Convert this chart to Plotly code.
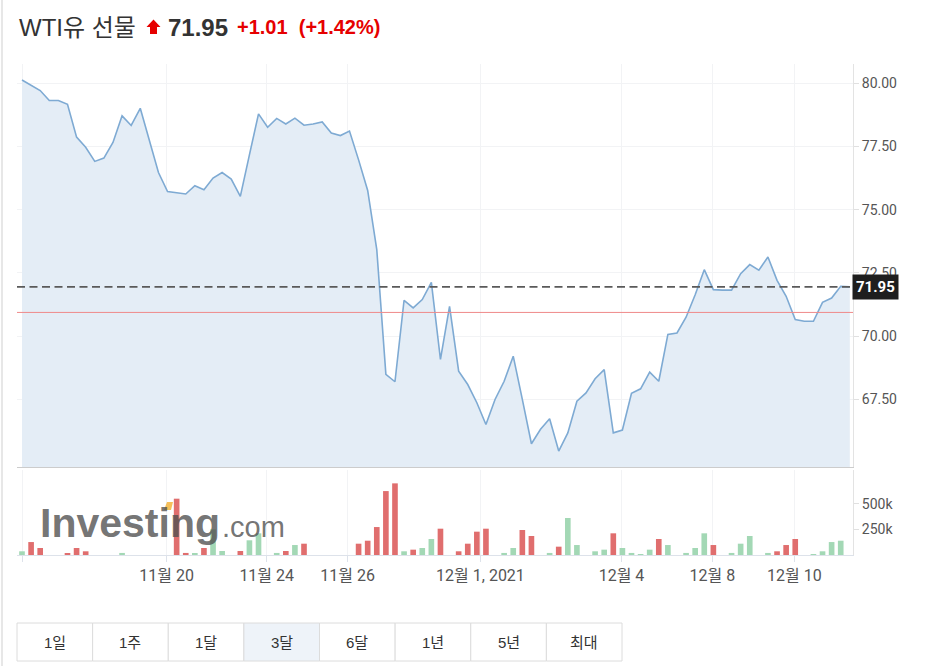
import plotly.graph_objects as go

# ---------------- data ----------------
title_name = "WTI유 선물"
last_price = 71.95
change = "+1.01"
change_pct = "(+1.42%)"
prev_close = 70.94

prices = [80.13, 79.93, 79.71, 79.32, 79.32, 79.17, 77.87, 77.47, 76.91, 77.04,
          77.66, 78.71, 78.33, 79.01, 77.70, 76.47, 75.72, 75.68, 75.62, 75.95,
          75.79, 76.25, 76.47, 76.21, 75.53, 77.17, 78.79, 78.26, 78.61, 78.39,
          78.62, 78.34, 78.39, 78.47, 78.03, 77.93, 78.11, 76.97, 75.76, 73.42,
          68.49, 68.20, 71.42, 71.12, 71.45, 72.13, 69.08, 71.18, 68.62, 68.09,
          67.37, 66.51, 67.50, 68.22, 69.21, 67.50, 65.75, 66.32, 66.74, 65.46,
          66.18, 67.43, 67.76, 68.32, 68.68, 66.18, 66.29, 67.74, 67.92, 68.58,
          68.22, 70.07, 70.13, 70.75, 71.64, 72.63, 71.84, 71.82, 71.82, 72.47,
          72.83, 72.61, 73.13, 72.21, 71.58, 70.66, 70.59, 70.59, 71.34, 71.51,
          71.97, 71.95]

volumes_k = [36, 126, 68, 0, 0, 10, 68, 36, 0, 0,
             0, 20, 0, 0, 0, 0, 0, 548, 20, 10,
             68, 250, 39, 0, 39, 143, 211, 0, 20, 39,
             97, 110, 0, 0, 0, 0, 0, 110, 139, 272,
             622, 697, 36, 52, 68, 156, 256, 0, 36, 110,
             227, 256, 0, 20, 68, 243, 185, 0, 20, 81,
             360, 97, 0, 36, 52, 211, 68, 20, 7, 52,
             156, 97, 0, 20, 68, 211, 97, 0, 20, 110,
             185, 0, 20, 36, 97, 156, 0, 7, 36, 126,
             139, 0]

x_tick_pos = [0, 15.9, 26.9, 35.8, 50.4, 65.9, 75.9, 84.9]
x_tick_text = ["", "11월 20", "11월 24", "11월 26", "12월 1, 2021", "12월 4", "12월 8", "12월 10"]

price_ticks = [67.5, 70.0, 72.5, 75.0, 77.5, 80.0]
vol_ticks = [250000, 500000]
vol_tick_text = ["250k", "500k"]

buttons = ["1일", "1주", "1달", "3달", "6달", "1년", "5년", "최대"]
active_button = "3달"

# ---------------- derived ----------------
idx = list(range(len(prices)))
volumes = [v * 1000 for v in volumes_k]
up_col, down_col = "#a3d8b5", "#e06e6e"
bar_colors = [up_col if (i == 0 or prices[i] >= prices[i - 1]) else down_col for i in idx]

W, H = 930, 666
ML, MR, MT, MB = 17, 77, 64, 111
PW, PH = W - ML - MR, H - MT - MB


def px(x):
    return (x - ML) / PW


def py(y):
    return (H - MB - y) / PH


FONT = "Roboto, 'Noto Sans CJK KR', sans-serif"
TFONT = "Arial, 'Liberation Sans', 'Noto Sans CJK KR', sans-serif"

fig = go.Figure()

fig.add_trace(go.Scatter(
    x=idx, y=prices, mode="lines", xaxis="x2", yaxis="y",
    line=dict(color="#7eaad3", width=1.6),
    fill="tozeroy", fillcolor="#e4edf6", hoverinfo="skip", showlegend=False,
))

fig.add_trace(go.Bar(
    x=idx, y=volumes, xaxis="x", yaxis="y2",
    marker=dict(color=bar_colors, line=dict(width=0)),
    width=0.62, hoverinfo="skip", showlegend=False,
))

grid = "#f2f3f5"
fig.update_layout(
    width=W, height=H,
    margin=dict(l=ML, r=MR, t=MT, b=MB),
    paper_bgcolor="white", plot_bgcolor="white",
    font=dict(family=FONT, color="#555"),
    hovermode=False, showlegend=False, bargap=0.3,
    xaxis=dict(
        domain=[0, 1], anchor="y2", range=[-0.55, 91.35],
        tickmode="array", tickvals=x_tick_pos, ticktext=x_tick_text,
        showgrid=True, gridcolor=grid, zeroline=False,
        showline=True, linecolor="#dde2ea", linewidth=1,
        ticks="outside", ticklen=6, tickcolor="#dde2ea",
        tickfont=dict(size=16, color="#555", family=FONT),
    ),
    xaxis2=dict(
        domain=[0, 1], anchor="y", matches="x",
        tickmode="array", tickvals=x_tick_pos, showticklabels=False,
        showgrid=True, gridcolor=grid, zeroline=False,
        showline=True, linecolor="#cccccc", linewidth=1, ticks="",
    ),
    yaxis=dict(
        domain=[py(467), 1], side="right", range=[64.83, 80.76],
        tickmode="array", tickvals=price_ticks,
        ticktext=[f"{v:.2f}" for v in price_ticks],
        showgrid=True, gridcolor=grid, zeroline=False,
        showline=True, linecolor="#e3e3e3", ticks="outside", ticklen=5,
        tickcolor="#e0e0e0", tickfont=dict(size=14, color="#555", family=FONT),
    ),
    yaxis2=dict(
        domain=[0, py(470)], side="right", range=[0, 827000],
        tickmode="array", tickvals=vol_ticks, ticktext=vol_tick_text,
        showgrid=False, zeroline=False,
        showline=True, linecolor="#e3e3e3", ticks="outside", ticklen=5,
        tickcolor="#e0e0e0", tickfont=dict(size=14, color="#555", family=FONT),
    ),
)

shapes = []
# previous close (red) and last price (dashed)
shapes.append(dict(type="line", xref="paper", x0=0, x1=1, yref="y",
                   y0=prev_close, y1=prev_close, line=dict(color="#ef8a8a", width=1)))
shapes.append(dict(type="line", xref="paper", x0=0, x1=1, yref="y",
                   y0=last_price, y1=last_price,
                   line=dict(color="#5a5a5a", width=1.8, dash="8px,4.5px")))
# left frame line
shapes.append(dict(type="line", xref="paper", yref="paper",
                   x0=px(2), x1=px(2), y0=py(0), y1=py(H),
                   line=dict(color="#cfcfcf", width=1)))
# red arrow next to title
ax0, ax1 = 146.5, 160.5
shapes.append(dict(
    type="path", xref="paper", yref="paper",
    path=(f"M {px(153.5)} {py(19.5)} L {px(ax1)} {py(27)} L {px(157)} {py(27)} "
          f"L {px(157)} {py(34)} L {px(150)} {py(34)} L {px(150)} {py(27)} "
          f"L {px(ax0)} {py(27)} Z"),
    fillcolor="#e60000", line=dict(width=0)))
# Investing.com watermark accent
shapes.append(dict(
    type="path", xref="paper", yref="paper",
    path=(f"M {px(164)} {py(510)} L {px(167)} {py(502)} L {px(173)} {py(502)} "
          f"L {px(171)} {py(510)} Z"),
    fillcolor="rgba(245,180,60,0.85)", line=dict(width=0), layer="above"))

# buttons
bx0, bx1, by0, by1 = 17, 622, 623, 661
bw = (bx1 - bx0) / len(buttons)
annotations = []
for k, lab in enumerate(buttons):
    x0 = bx0 + k * bw
    shapes.append(dict(type="rect", xref="paper", yref="paper",
                       x0=px(x0), x1=px(x0 + bw), y0=py(by1), y1=py(by0),
                       fillcolor="#eef3f9" if lab == active_button else "white",
                       line=dict(color="#dcdcdc", width=1), layer="below"))
    annotations.append(dict(xref="paper", yref="paper", x=px(x0 + bw / 2),
                            y=py((by0 + by1) / 2), text=lab, showarrow=False,
                            xanchor="center", yanchor="middle",
                            font=dict(size=15, color="#333", family=TFONT)))

# title row
annotations += [
    dict(xref="paper", yref="paper", x=px(17), y=py(27), text=title_name,
         showarrow=False, xanchor="left", yanchor="middle",
         font=dict(size=24, color="#333", family=TFONT)),
    dict(xref="paper", yref="paper", x=px(166), y=py(27), text=f"<b>{last_price:.2f}</b>",
         showarrow=False, xanchor="left", yanchor="middle",
         font=dict(size=24, color="#333", family=TFONT)),
    dict(xref="paper", yref="paper", x=px(235), y=py(27),
         text=f"<b>{change}  {change_pct}</b>",
         showarrow=False, xanchor="left", yanchor="middle",
         font=dict(size=20, color="#e60000", family=TFONT)),
    # last price label
    dict(xref="paper", yref="y", x=1, y=last_price, text=f"<b>{last_price:.2f}</b>",
         showarrow=False, xanchor="left", yanchor="middle", xshift=-1,
         bgcolor="#1e1e1e", borderpad=3,
         font=dict(size=15, color="white", family=FONT)),
    # watermark
    dict(xref="paper", yref="paper", x=px(38), y=py(523), text="<b>Investing</b>",
         showarrow=False, xanchor="left", yanchor="middle",
         font=dict(size=41, color="rgba(80,80,80,0.8)", family=TFONT)),
    dict(xref="paper", yref="paper", x=px(220), y=py(527), text=".com",
         showarrow=False, xanchor="left", yanchor="middle",
         font=dict(size=29, color="rgba(80,80,80,0.8)", family=TFONT)),
]

fig.update_layout(shapes=shapes, annotations=annotations)
fig.write_html("out.html", config={"displayModeBar": False},
               post_script="document.body.style.margin='0px';")
